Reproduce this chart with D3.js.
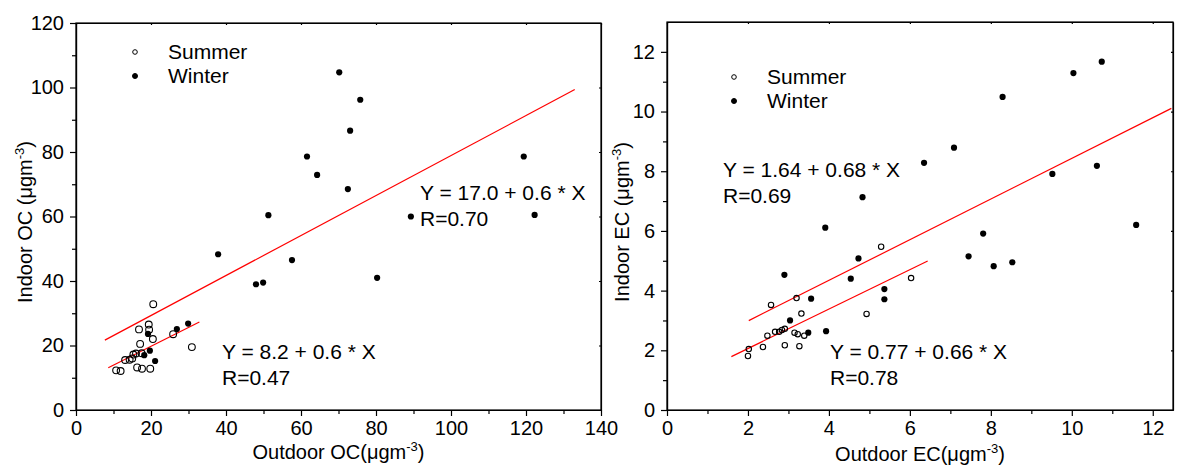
<!DOCTYPE html>
<html>
<head>
<meta charset="utf-8">
<script src="https://cdn.jsdelivr.net/npm/d3@7"></script>
<style>
  body { margin: 0; background: #fff; }
  svg { font-family: "Liberation Sans", Arial, sans-serif; }
  .axis path, .axis line { stroke: #000; stroke-width: 1.2; }
  .axis text { font-size: 20px; fill: #000; }
</style>
</head>
<body>
<svg width="1183" height="467"></svg>
<script>
// ---- data ----
// OC panel: [outdoor, indoor] in ugm-3
let summerOC = [[20.6, 32.8], [16.8, 25.0], [19.4, 26.5], [19.5, 24.9], [20.5, 22.0], [17.1, 20.5],
    [25.9, 23.5], [30.9, 19.5], [17.5, 17.6], [15.3, 17.2], [13.1, 15.5], [14.3, 15.6], [16.0, 17.5],
    [15.0, 16.0], [16.3, 13.2], [17.6, 12.8], [19.8, 12.8], [10.7, 12.3], [11.9, 12.1]];
let winterOC = [[70.2, 104.7], [75.8, 96.2], [73.1, 86.6], [61.6, 78.6], [64.3, 72.9], [72.5, 68.5],
    [51.3, 60.4], [37.9, 48.3], [57.6, 46.5], [48.0, 39.0], [49.9, 39.5], [80.3, 41.0], [89.3, 60.0],
    [119.4, 78.6], [122.3, 60.5], [19.2, 23.6], [26.9, 25.1], [29.9, 26.8], [19.7, 18.4],
    [18.2, 17.0], [21.1, 15.2]];
// EC panel
let summerEC = [[5.29, 5.47], [6.03, 4.42], [2.57, 3.52], [3.20, 3.75], [3.32, 3.23], [4.93, 3.22],
    [2.48, 2.49], [2.67, 2.62], [2.77, 2.62], [2.84, 2.68], [2.91, 2.72], [3.15, 2.59], [3.23, 2.54],
    [3.39, 2.49], [2.02, 2.04], [2.00, 1.81], [2.37, 2.11], [2.91, 2.17], [3.27, 2.14]];
let winterEC = [[10.74, 11.67], [10.04, 11.29], [8.29, 10.49], [7.09, 8.79], [6.35, 8.28], [9.52, 7.91],
    [10.62, 8.18], [4.83, 7.13], [3.91, 6.11], [11.59, 6.20], [7.81, 5.91], [7.45, 5.15], [4.73, 5.08],
    [8.07, 4.82], [8.53, 4.95], [2.90, 4.53], [4.54, 4.40], [3.56, 3.73], [5.37, 4.05], [5.37, 3.71],
    [3.04, 3.00], [3.49, 2.59], [3.93, 2.64]];

// fitted lines: [intercept, slope, xStart, xEnd]
let fitsOC = [[16.9, 0.62, 7.7, 133], [8.1, 0.584, 8.6, 32.9]];
let fitsEC = [[1.62, 0.681, 2.02, 12.46], [0.74, 0.66, 1.59, 6.44]];

let eqOC = [['Y = 17.0 + 0.6 * X', 'R=0.70'], ['Y = 8.2 + 0.6 * X', 'R=0.47']];
let eqEC = [['Y = 1.64 + 0.68 * X', 'R=0.69'], ['Y = 0.77 + 0.66 * X', 'R=0.78']];

let legendNames = ['Summer', 'Winter'];

const svg = d3.select('svg');

function panel(opt) {
    let g = svg.append('g');
    let x = d3.scaleLinear().domain(opt.xDomain).range(opt.xRange),
        y = d3.scaleLinear().domain(opt.yDomain).range(opt.yRange);

    // frame ticks on top/right (tiny, inward)
    g.append('g').attr('class', 'axis')
        .attr('transform', `translate(0,${opt.yRange[1]})`)
        .call(d3.axisTop(x).tickValues(opt.xMajor).tickSize(-2).tickSizeOuter(0).tickFormat(''));
    g.append('g').attr('class', 'axis')
        .attr('transform', `translate(${opt.xRange[1]},0)`)
        .call(d3.axisRight(y).tickValues(opt.yMajor).tickSize(-2).tickSizeOuter(0).tickFormat(''));

    // minor ticks
    g.append('g').attr('class', 'axis')
        .attr('transform', `translate(0,${opt.yRange[0]})`)
        .call(d3.axisBottom(x).tickValues(opt.xMinor).tickSize(4).tickSizeOuter(0).tickFormat(''));
    g.append('g').attr('class', 'axis')
        .attr('transform', `translate(${opt.xRange[0]},0)`)
        .call(d3.axisLeft(y).tickValues(opt.yMinor).tickSize(4).tickSizeOuter(0).tickFormat(''));

    // major axes
    g.append('g').attr('class', 'axis')
        .attr('transform', `translate(0,${opt.yRange[0]})`)
        .call(d3.axisBottom(x).tickValues(opt.xMajor).tickSize(6).tickPadding(5).tickSizeOuter(0));
    g.append('g').attr('class', 'axis')
        .attr('transform', `translate(${opt.xRange[0]},0)`)
        .call(d3.axisLeft(y).tickValues(opt.yMajor).tickSize(6).tickPadding(6).tickSizeOuter(0));

    // regression lines
    g.selectAll('.fit')
        .data(opt.fits)
        .enter()
        .append('line')
        .attr('x1', f => x(f[2])).attr('y1', f => y(f[0] + f[1] * f[2]))
        .attr('x2', f => x(f[3])).attr('y2', f => y(f[0] + f[1] * f[3]))
        .attr('stroke', '#ff0000')
        .attr('stroke-width', 1.2);

    // points
    g.selectAll('.summer')
        .data(opt.summer)
        .enter()
        .append('circle')
        .attr('cx', d => x(d[0])).attr('cy', d => y(d[1]))
        .attr('r', opt.openR)
        .attr('fill', 'none').attr('stroke', '#000').attr('stroke-width', 1.1);
    g.selectAll('.winter')
        .data(opt.winter)
        .enter()
        .append('circle')
        .attr('cx', d => x(d[0])).attr('cy', d => y(d[1]))
        .attr('r', 3.1)
        .attr('fill', '#000');

    // equations
    opt.eq.forEach((lines, i) => {
        let pos = opt.eqPos[i];
        lines.forEach((t, j) => {
            g.append('text')
                .attr('x', pos[0]).attr('y', pos[1] + j * 26)
                .style('font-size', '21px')
                .text(t);
        });
    });

    // legend
    legendNames.forEach((name, i) => {
        let lp = opt.legendPos;
        g.append('circle')
            .attr('cx', lp[0]).attr('cy', lp[1] + i * 24)
            .attr('r', i === 0 ? 2.3 : 2.5)
            .attr('fill', i === 0 ? 'none' : '#000')
            .attr('stroke', '#000').attr('stroke-width', 1);
        g.append('text')
            .attr('x', lp[0] + 33).attr('y', lp[1] + i * 24 + 7)
            .style('font-size', '21px')
            .text(name);
    });

    // axis titles
    let xt = g.append('text')
        .attr('x', (opt.xRange[0] + opt.xRange[1]) / 2)
        .attr('y', opt.xTitleY)
        .attr('text-anchor', 'middle')
        .style('font-size', '20px');
    xt.append('tspan').text(opt.xTitle + '(\u03bcgm');
    xt.append('tspan').attr('dy', -8).style('font-size', '13px').text('-3');
    xt.append('tspan').attr('dy', 8).text(')');

    let yt = g.append('text')
        .attr('transform', `translate(${opt.yTitleX},${opt.yTitleY}) rotate(-90)`)
        .attr('text-anchor', 'middle')
        .style('font-size', '20px');
    yt.append('tspan').text(opt.yTitle + ' (\u03bcgm');
    yt.append('tspan').attr('dy', -8).style('font-size', '13px').text('-3');
    yt.append('tspan').attr('dy', 8).text(')');

    // frame
    g.append('rect')
        .attr('x', opt.xRange[0]).attr('y', opt.yRange[1])
        .attr('width', opt.xRange[1] - opt.xRange[0])
        .attr('height', opt.yRange[0] - opt.yRange[1])
        .attr('fill', 'none').attr('stroke', '#000').attr('stroke-width', 1.2);
}

panel({
    xDomain: [0, 140], xRange: [76, 601],
    yDomain: [0, 120], yRange: [410, 23],
    xMajor: d3.range(0, 141, 20), xMinor: d3.range(10, 140, 20),
    yMajor: d3.range(0, 121, 20), yMinor: d3.range(10, 120, 20),
    summer: summerOC, winter: winterOC, openR: 3.4,
    fits: fitsOC, eq: eqOC, eqPos: [[420, 200], [222, 359]],
    legendPos: [135, 52],
    xTitle: 'Outdoor OC', xTitleY: 459,
    yTitle: 'Indoor OC', yTitleX: 32, yTitleY: 222
});

panel({
    xDomain: [0, 12.5], xRange: [667, 1173],
    yDomain: [0, 13], yRange: [410, 22],
    xMajor: d3.range(0, 13, 2), xMinor: d3.range(1, 13, 2),
    yMajor: d3.range(0, 13, 2), yMinor: d3.range(1, 13, 2),
    summer: summerEC, winter: winterEC, openR: 2.7,
    fits: fitsEC, eq: eqEC, eqPos: [[723, 177], [830, 359]],
    legendPos: [734, 77],
    xTitle: 'Outdoor EC', xTitleY: 461,
    yTitle: 'Indoor EC', yTitleX: 629, yTitleY: 222
});
</script>
</body>
</html>
